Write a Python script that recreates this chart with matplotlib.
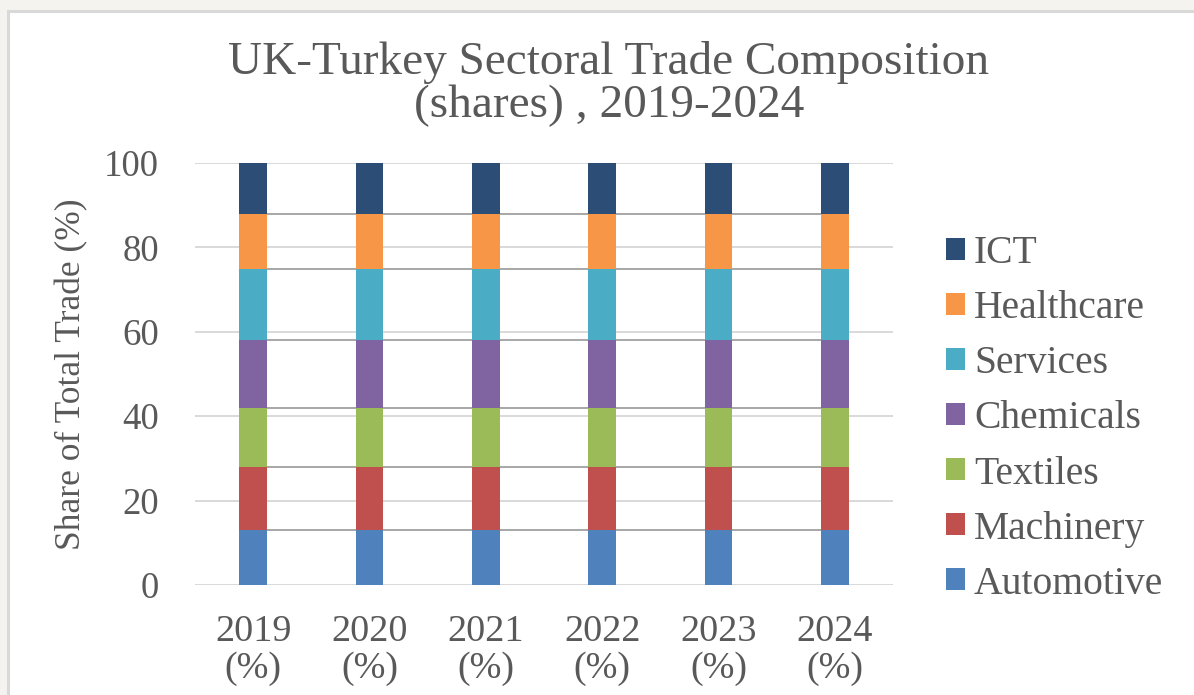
import matplotlib
matplotlib.use("Agg")
import matplotlib.pyplot as plt
from matplotlib.patches import Rectangle, Patch
import numpy as np

years = ["2019\n(%)", "2020\n(%)", "2021\n(%)", "2022\n(%)", "2023\n(%)", "2024\n(%)"]
sectors = ["Automotive", "Machinery", "Textiles", "Chemicals", "Services", "Healthcare", "ICT"]
automotive = [13, 13, 13, 13, 13, 13]
machinery = [15, 15, 15, 15, 15, 15]
textiles = [14, 14, 14, 14, 14, 14]
chemicals = [16, 16, 16, 16, 16, 16]
services = [17, 17, 17, 17, 17, 17]
healthcare = [13, 13, 13, 13, 13, 13]
ict = [12, 12, 12, 12, 12, 12]
yticks = [0, 20, 40, 60, 80, 100]

series = [automotive, machinery, textiles, chemicals, services, healthcare, ict]
colors = ["#4F81BD", "#C0504D", "#9BBB59", "#8064A2", "#4BACC6", "#F79646", "#2C4D75"]

plt.rcParams["font.family"] = ["Liberation Serif", "DejaVu Serif"]
text_color = "#595959"

fig = plt.figure(figsize=(11.94, 6.95), dpi=100, facecolor="#F4F3EF")

# white chart panel with a light border
W, H = 1194, 695
panel = Rectangle((8 / W, -0.05), 1.1, 1 - 11 / H + 0.05, transform=fig.transFigure,
                  facecolor="white", edgecolor="#D9D9D9", linewidth=2.2, zorder=-5)
fig.patches.append(panel)

ax = fig.add_axes([195 / W, 1 - 585 / H, (893 - 195) / W, (585 - 163) / H])
ax.set_zorder(2)
ax.set_facecolor("none")

x = np.arange(len(years))
width = 0.24
bottom = np.zeros(len(years))
tops = []
for vals, col, name in zip(series, colors, sectors):
    vals = np.array(vals, dtype=float)
    ax.bar(x, vals, width, bottom=bottom, color=col, label=name, zorder=3, linewidth=0)
    bottom = bottom + vals
    tops.append(bottom.copy())

# series lines joining segment boundaries between neighbouring bars
for t in tops[:-1]:
    for i in range(len(x) - 1):
        ax.plot([x[i] + width / 2, x[i + 1] - width / 2], [t[i], t[i + 1]],
                color="#A0A0A0", linewidth=1.3, zorder=2, solid_capstyle="butt")

ax.set_xlim(-0.5, len(years) - 0.5)
ax.set_ylim(0, 100)
ax.set_yticks(yticks)
ax.set_xticks(x)
ax.set_xticklabels(years, linespacing=1.1)
ax.yaxis.grid(True, color="#D9D9D9", linewidth=1.4, zorder=1)
ax.set_axisbelow(True)
for s in ax.spines.values():
    s.set_visible(False)
ax.tick_params(axis="y", length=0, pad=26, labelsize=26.5, labelcolor=text_color)
ax.tick_params(axis="x", length=0, pad=21, labelsize=27.5, labelcolor=text_color)

fig.text(72 / W, 1 - 374 / H, "Share of Total Trade (%)", rotation=90,
         ha="center", va="center", fontsize=25.5, color=text_color)

fig.text(609 / W, 1 - 84 / H, "UK-Turkey Sectoral Trade Composition\n(shares) , 2019-2024",
         ha="center", va="center", fontsize=34, color=text_color, linespacing=1.03)

handles = [Patch(facecolor=c, edgecolor="none") for c in colors][::-1]
labels = sectors[::-1]
leg = fig.legend(handles, labels, loc="center left",
                 bbox_to_anchor=(946 / W, 1 - 419 / H), frameon=False,
                 fontsize=28.5, handlelength=0.48, handleheight=0.48,
                 handletextpad=0.23, labelspacing=0.455, borderpad=0, borderaxespad=0)
for t in leg.get_texts():
    t.set_color(text_color)

fig.savefig("out.png", dpi=100, facecolor=fig.get_facecolor())
